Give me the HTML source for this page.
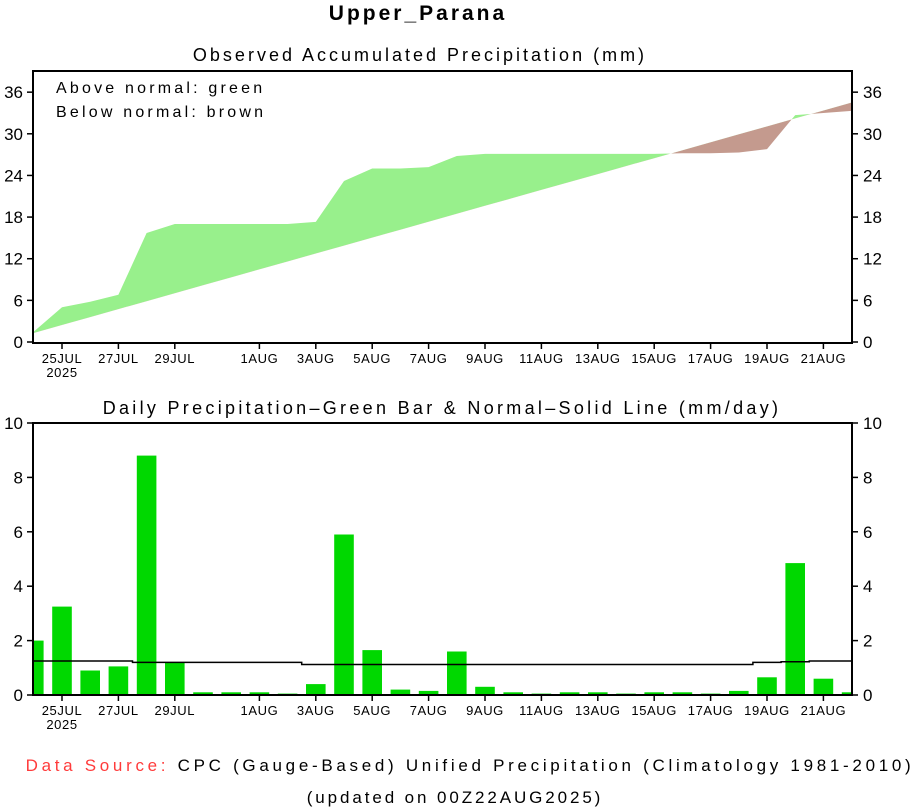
<!DOCTYPE html>
<html><head><meta charset="utf-8"><style>
html,body{margin:0;padding:0;background:#fff;}
svg{display:block;font-family:"Liberation Sans",sans-serif;}
</style></head><body>
<svg id="s" width="922" height="809" viewBox="0 0 922 809" xmlns="http://www.w3.org/2000/svg">
<rect width="922" height="809" fill="#fff"/>
<text x="418" y="20" font-size="21" font-weight="bold" text-anchor="middle" letter-spacing="3" fill="#000">Upper_Parana</text>
<text x="420" y="61" font-size="18" text-anchor="middle" letter-spacing="3">Observed Accumulated Precipitation (mm)</text>
<text x="442" y="414" font-size="18" text-anchor="middle" letter-spacing="3.3">Daily Precipitation–Green Bar &amp; Normal–Solid Line (mm/day)</text>
<text x="56" y="93" font-size="16" letter-spacing="3.2">Above normal: green</text>
<text x="56" y="117" font-size="16" letter-spacing="3.2">Below normal: brown</text>
<text x="470" y="771" font-size="17" text-anchor="middle" letter-spacing="3.7"><tspan fill="#ff3b3b">Data Source:</tspan> CPC (Gauge-Based) Unified Precipitation (Climatology 1981-2010)</text>
<text x="455" y="803" font-size="17" text-anchor="middle" letter-spacing="2.9">(updated on 00Z22AUG2025)</text>
<g id="g"></g>
</svg>
<script>
(function(){
var g=document.getElementById('g'),h='';
function X(d){return 33.8+28.2*d;}
function Y1(v){return 342-v*6.94;}
function Y2(v){return 695-v*27.2;}
var obs=[1.5,5,5.8,6.8,15.7,17,17,17,17,17,17.3,23.2,25,25,25.2,26.8,27.1,27.1,27.1,27.1,27.1,27.1,27.1,27.2,27.2,27.3,27.8,32.7,33.0,33.3];
var nf=function(d){return 1.3+1.145*d;};
var tp='',bt='';
for(var d=0;d<=29;d++){tp+=X(d).toFixed(1)+','+Y1(obs[d]).toFixed(1)+' ';}
for(var d=29;d>=0;d--){bt+=X(d).toFixed(1)+','+Y1(nf(d)).toFixed(1)+' ';}
var nline='';for(var d=0;d<=29;d++)nline+=X(d).toFixed(1)+','+Y1(nf(d)).toFixed(1)+' ';
h+='<defs><clipPath id="ca"><polygon points="'+nline+X(29)+',0 '+X(0)+',0"/></clipPath><clipPath id="cb"><polygon points="'+nline+X(29)+',400 '+X(0)+',400"/></clipPath><clipPath id="pb"><rect x="33" y="423" width="819" height="272"/></clipPath></defs>';
h+='<polygon points="'+tp+bt+'" fill="#98f08c" clip-path="url(#ca)"/>';
h+='<polygon points="'+tp+bt+'" fill="#c49a8e" clip-path="url(#cb)"/>';
h+='<rect x="33" y="71" width="819" height="272" fill="none" stroke="#000" stroke-width="2"/>';
[0,6,12,18,24,30,36].forEach(function(v){var y=Y1(v);h+='<line x1="27" x2="33" y1="'+y+'" y2="'+y+'" stroke="#000" stroke-width="1.5"/><line x1="852" x2="858" y1="'+y+'" y2="'+y+'" stroke="#000" stroke-width="1.5"/>';
h+='<text x="23" y="'+(y+6)+'" font-size="17" text-anchor="end">'+v+'</text><text x="863" y="'+(y+6)+'" font-size="17">'+v+'</text>';});
var dv=[2.0,3.25,0.9,1.05,8.8,1.2,0.1,0.1,0.1,0.05,0.4,5.9,1.65,0.2,0.15,1.6,0.3,0.1,0.05,0.1,0.1,0.05,0.1,0.1,0.05,0.15,0.65,4.85,0.6,0.1];
var bars='';
dv.forEach(function(v,d){bars+='<rect x="'+(X(d)-9.8).toFixed(1)+'" y="'+Y2(v).toFixed(1)+'" width="19.6" height="'+(v*27.2).toFixed(1)+'" fill="#00d800"/>';});
h+='<g clip-path="url(#pb)">'+bars+'</g>';
var nd=[1.25,1.25,1.25,1.25,1.2,1.2,1.2,1.2,1.2,1.2,1.12,1.12,1.12,1.12,1.12,1.12,1.12,1.12,1.12,1.12,1.12,1.12,1.12,1.12,1.12,1.12,1.2,1.22,1.25,1.25];
var nl='';nd.forEach(function(v,d){var x0=Math.max(33,X(d)-14.1),x1=Math.min(852,X(d)+14.1);nl+=x0.toFixed(1)+','+Y2(v).toFixed(1)+' '+x1.toFixed(1)+','+Y2(v).toFixed(1)+' ';});
h+='<polyline points="'+nl+'" fill="none" stroke="#000" stroke-width="1.5"/>';
h+='<rect x="33" y="423" width="819" height="272" fill="none" stroke="#000" stroke-width="2"/>';
[0,2,4,6,8,10].forEach(function(v){var y=Y2(v);h+='<line x1="27" x2="33" y1="'+y+'" y2="'+y+'" stroke="#000" stroke-width="1.5"/><line x1="852" x2="858" y1="'+y+'" y2="'+y+'" stroke="#000" stroke-width="1.5"/>';
h+='<text x="23" y="'+(y+6)+'" font-size="17" text-anchor="end">'+v+'</text><text x="863" y="'+(y+6)+'" font-size="17">'+v+'</text>';});
var tk=[[1,'25JUL'],[3,'27JUL'],[5,'29JUL'],[8,'1AUG'],[10,'3AUG'],[12,'5AUG'],[14,'7AUG'],[16,'9AUG'],[18,'11AUG'],[20,'13AUG'],[22,'15AUG'],[24,'17AUG'],[26,'19AUG'],[28,'21AUG']];
[343,695].forEach(function(yb){tk.forEach(function(t){var x=X(t[0]);h+='<line x1="'+x+'" x2="'+x+'" y1="'+yb+'" y2="'+(yb+6)+'" stroke="#000" stroke-width="1.5"/><text x="'+x+'" y="'+(yb+20)+'" font-size="13" text-anchor="middle" letter-spacing="0.6">'+t[1]+'</text>';});
h+='<text x="'+X(1)+'" y="'+(yb+34)+'" font-size="13" text-anchor="middle" letter-spacing="0.6">2025</text>';});
g.innerHTML=h;
})();
</script>
</body></html>
